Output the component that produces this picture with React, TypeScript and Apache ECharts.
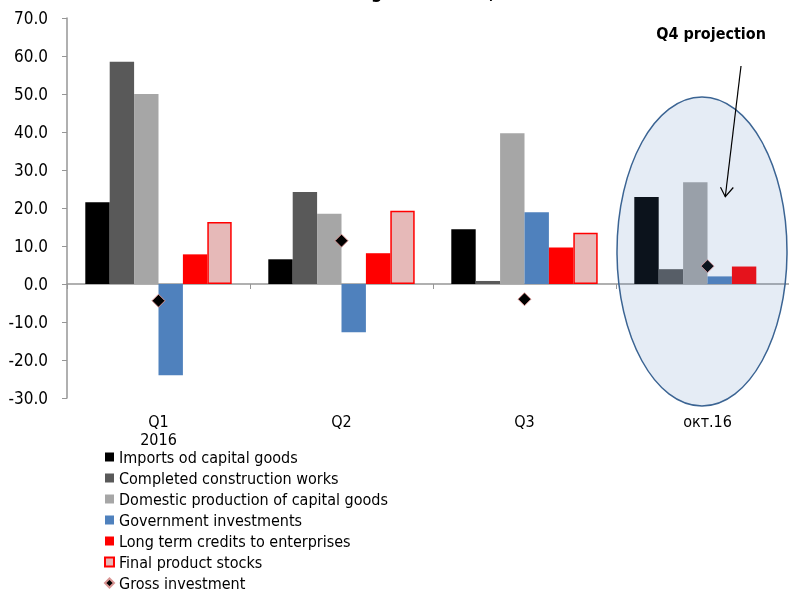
import React, { useEffect, useRef } from "react";
import * as echarts from "echarts";

const categories = ["Q1\n2016", "Q2", "Q3", "окт.16"];
const imports = [21.5, 6.5, 14.4, 22.9];
const construction = [58.5, 24.2, 0.8, 3.9];
const domestic = [50.0, 18.5, 39.7, 26.8];
const government = [-24.0, -12.7, 18.9, 2.0];
const credits = [7.8, 8.1, 9.6, 4.6];
const stocks: (number | null)[] = [16.3, 19.3, 13.5, null];
const gross = [-4.4, 11.4, -4.0, 4.7];

const FONT = "'DejaVu Sans Condensed', 'DejaVu Sans', sans-serif";

export default function App() {
  const ref = useRef<HTMLDivElement>(null);
  useEffect(() => {
    if (!ref.current) return;
    const chart = echarts.init(ref.current, undefined, { renderer: "svg" });
    const bar = (name: string, data: (number | null)[], color: string, extra: any = {}) => ({
      name,
      type: "bar",
      data,
      barGap: "0%",
      barCategoryGap: "20%",
      itemStyle: { color, ...extra },
    });
    chart.setOption({
      animation: false,
      textStyle: { fontFamily: FONT },
      grid: { left: 67, top: 18, right: 1, bottom: 193, containLabel: false },
      xAxis: [
        {
          type: "category",
          data: categories,
          position: "bottom",
          axisLine: { onZero: true, lineStyle: { color: "#969696", width: 1.5 } },
          axisTick: { show: true, length: 5, lineStyle: { color: "#969696" } },
          axisLabel: { show: false },
        },
        {
          type: "category",
          data: categories,
          position: "bottom",
          axisLine: { show: false, onZero: false },
          axisTick: { show: false },
          axisLabel: {
            show: true,
            margin: 14,
            color: "#000",
            fontSize: 16,
            lineHeight: 18,
            fontFamily: FONT,
          },
        },
      ],
      yAxis: {
        type: "value",
        min: -30,
        max: 70,
        interval: 10,
        axisLine: { show: true, lineStyle: { color: "#969696", width: 1.5 } },
        axisTick: { show: true, length: 5, lineStyle: { color: "#969696" } },
        splitLine: { show: false },
        axisLabel: {
          color: "#000",
          fontSize: 17,
          margin: 19,
          fontFamily: FONT,
          formatter: (v: number) => v.toFixed(1),
        },
      },
      legend: {
        orient: "vertical",
        left: 99,
        top: 444,
        height: 170,
        itemWidth: 9,
        itemHeight: 9,
        itemGap: 5,
        textStyle: { color: "#000", fontSize: 16, lineHeight: 16, fontFamily: FONT },
        data: [
          { name: "Imports od capital goods", icon: "rect" },
          { name: "Completed construction works", icon: "rect" },
          { name: "Domestic production of capital goods", icon: "rect" },
          { name: "Government investments", icon: "rect" },
          { name: "Long term credits to enterprises", icon: "rect" },
          { name: "Final product stocks", icon: "rect" },
          { name: "Gross investment", icon: "diamond" },
        ],
      },
      series: [
        bar("Imports od capital goods", imports, "#000000"),
        bar("Completed construction works", construction, "#595959"),
        bar("Domestic production of capital goods", domestic, "#a6a6a6"),
        bar("Government investments", government, "#4f81bd"),
        bar("Long term credits to enterprises", credits, "#ff0000"),
        bar("Final product stocks", stocks, "#e6b9b8", { borderColor: "#ff0000", borderWidth: 1.5 }),
        {
          name: "Gross investment",
          type: "scatter",
          xAxisIndex: 0,
          data: gross,
          symbol: "diamond",
          symbolSize: 13,
          z: 5,
          itemStyle: { color: "#000000", borderColor: "#d99694", borderWidth: 1, opacity: 1 },
        },
      ],
      graphic: [
        {
          type: "text",
          x: 401,
          y: 0,
          style: {
            text: "(annual real growth rates, in %)",
            align: "center",
            verticalAlign: "bottom",
            font: `bold 18px ${FONT}`,
            fill: "#000",
          },
        },
        {
          type: "ellipse",
          z: 100,
          silent: true,
          shape: { cx: 702, cy: 251.5, rx: 85, ry: 154.5 },
          style: { fill: "rgba(79,129,189,0.15)", stroke: "#3b6493", lineWidth: 1.5 },
        },
        {
          type: "line",
          z: 101,
          shape: { x1: 741, y1: 66, x2: 725.3, y2: 196.5 },
          style: { stroke: "#000", lineWidth: 1.2 },
        },
        {
          type: "polyline",
          z: 101,
          shape: { points: [[720.5, 187.3], [725.3, 196.7], [733.3, 187.5]] },
          style: { stroke: "#000", lineWidth: 1.2, fill: null },
        },
        {
          type: "text",
          z: 101,
          x: 711,
          y: 33,
          style: {
            text: "Q4 projection",
            align: "center",
            verticalAlign: "middle",
            font: `bold 16px ${FONT}`,
            fill: "#000",
          },
        },
      ],
    });
    return () => chart.dispose();
  }, []);
  return (
    <div style={{ position: "fixed", left: 0, top: 0, width: 789, height: 591, overflow: "hidden" }}>
      <div ref={ref} style={{ width: 800, height: 591 }} />
    </div>
  );
}
